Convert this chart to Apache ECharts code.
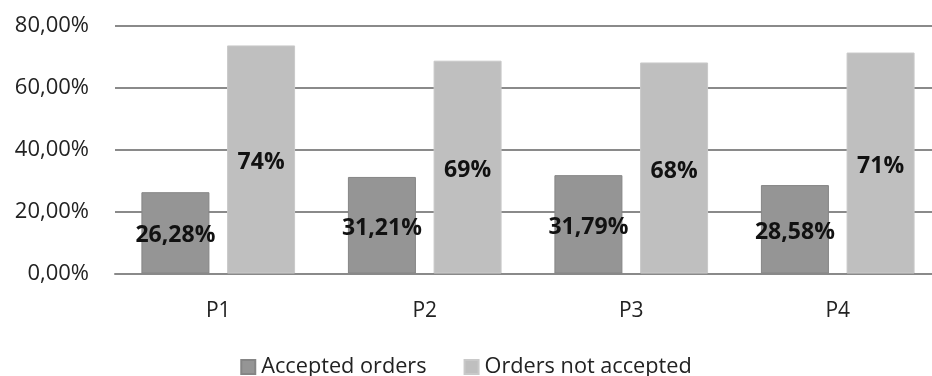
<!DOCTYPE html>
<html>
<head>
<meta charset="utf-8">
<script src="https://cdn.jsdelivr.net/npm/echarts@6/dist/echarts.min.js"></script>
<style>
  html, body { margin: 0; padding: 0; background: #fff; }
  #chart { width: 932px; height: 376px; }
</style>
</head>
<body>
<div id="chart"></div>
<script>
// Share of orders per period
var categories = ['P1', 'P2', 'P3', 'P4'];
var acceptedOrders = [26.28, 31.21, 31.79, 28.58];
var notAcceptedOrders = [73.72, 68.79, 68.21, 71.42];
var seriesNames = ['Accepted orders', 'Orders not accepted'];
var yTicks = [0, 20, 40, 60, 80];

var FONT = '"Open Sans", "Liberation Sans", sans-serif';

function pct2(v) {
  return v.toFixed(2).replace('.', ',') + '%';
}
function pct0(v) {
  return Math.round(v) + '%';
}

var chart = echarts.init(document.getElementById('chart'), null, { renderer: 'canvas' });

var labelStyle = {
  show: true,
  position: 'inside',
  offset: [0, 3],
  color: '#111',
  fontFamily: FONT,
  fontWeight: 'bold',
  fontSize: 23
};

chart.setOption({
  animation: false,
  backgroundColor: '#ffffff',
  textStyle: { fontFamily: FONT },
  grid: {
    left: 115, top: 26, right: -9, bottom: 102.5,
    containLabel: false,
    outerBoundsMode: 'none'
  },
  legend: {
    data: seriesNames,
    top: 351,
    left: 'center',
    itemWidth: 14,
    itemHeight: 14,
    itemGap: 37,
    icon: 'rect',
    textStyle: { fontFamily: FONT, fontSize: 21.7, color: '#222', padding: [0, 0, 0, 1] }
  },
  xAxis: {
    type: 'category',
    data: categories,
    axisTick: { show: false },
    axisLine: { show: true, lineStyle: { color: '#8a8a8a', width: 2 } },
    axisLabel: { fontFamily: FONT, fontSize: 21, color: '#222', margin: 27 }
  },
  yAxis: {
    type: 'value',
    min: yTicks[0],
    max: yTicks[yTicks.length - 1],
    interval: 20,
    axisLine: { show: false },
    axisTick: { show: false },
    splitLine: { lineStyle: { color: '#8a8a8a', width: 2 } },
    axisLabel: {
      fontFamily: FONT, fontSize: 22, color: '#222', margin: 26,
      formatter: function (v) { return pct2(v); }
    }
  },
  series: [
    {
      name: seriesNames[0],
      type: 'bar',
      data: acceptedOrders,
      barWidth: 68,
      barGap: '26%',
      itemStyle: { color: '#959595', borderColor: '#858585', borderWidth: 1 },
      label: Object.assign({}, labelStyle, {
        formatter: function (p) { return pct2(p.value); }
      })
    },
    {
      name: seriesNames[1],
      type: 'bar',
      data: notAcceptedOrders,
      barWidth: 68,
      barGap: '26%',
      itemStyle: { color: '#bfbfbf', borderColor: '#c9c9c9', borderWidth: 1 },
      label: Object.assign({}, labelStyle, {
        formatter: function (p) { return pct0(p.value); }
      })
    }
  ]
});
</script>
</body>
</html>
